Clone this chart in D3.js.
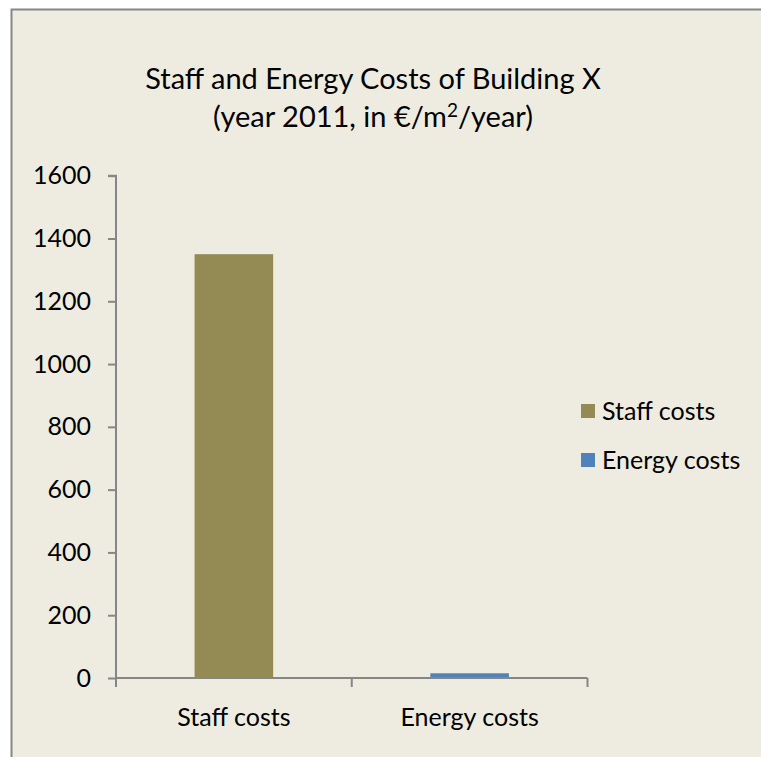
<!DOCTYPE html>
<html>
<head>
<meta charset="utf-8">
<script src="https://cdn.jsdelivr.net/npm/d3@7"></script>
<style>
  html, body { margin: 0; padding: 0; background: #ffffff; }
  svg { display: block; }
  text { font-family: Lato, "Open Sans", sans-serif; fill: #000; }
</style>
</head>
<body>
<svg id="chart" width="761" height="757"></svg>
<script>
const categories = ["Staff costs", "Energy costs"];
const values = [1350, 15];
const seriesColors = ["#948A54", "#4F81BD"];
const yTicks = [0, 200, 400, 600, 800, 1000, 1200, 1400, 1600];
const titleLine1 = "Staff and Energy Costs of Building X";
const titleLine2a = "(year 2011, in €/m";
const titleLine2sup = "2";
const titleLine2b = "/year)";

const svg = d3.select("#chart");
const W = 761, H = 757;
const axisColor = "#868686";

// chart area background and border
svg.append("rect")
  .attr("x", 11.5).attr("y", 9.5)
  .attr("width", W + 10).attr("height", H + 10)
  .attr("fill", "#EEECE1")
  .attr("stroke", axisColor).attr("stroke-width", 2);

const plot = { left: 116, right: 587.5, top: 175.7, bottom: 678 };

const x = d3.scaleBand().domain(categories).range([plot.left, plot.right]).paddingInner(0).paddingOuter(0);
const y = d3.scaleLinear().domain([0, 1600]).range([plot.bottom, plot.top]);

// bars
const barW = x.bandwidth() / 3;
svg.append("g").selectAll("rect").data(categories).join("rect")
  .attr("x", d => x(d) + (x.bandwidth() - barW) / 2)
  .attr("width", barW)
  .attr("y", (d, i) => y(values[i]))
  .attr("height", (d, i) => y(0) - y(values[i]))
  .attr("fill", (d, i) => seriesColors[i]);

// y axis
const yAxis = d3.axisLeft(y).tickValues(yTicks).tickSize(8).tickPadding(17).tickFormat(d3.format("d"));
const gy = svg.append("g").attr("transform", `translate(${plot.left},0)`).call(yAxis);
gy.select(".domain").attr("stroke", axisColor).attr("stroke-width", 2).attr("d", `M-8,${plot.top}H0V${plot.bottom}`);
gy.selectAll(".tick line").attr("stroke", axisColor).attr("stroke-width", 2);
gy.selectAll(".tick text").style("font-family", "Lato, sans-serif").style("font-size", "25px").attr("fill", "#000");

// x axis
const xAxis = d3.axisBottom(x).tickSize(0).tickPadding(30);
const gx = svg.append("g").attr("transform", `translate(0,${plot.bottom})`).call(xAxis);
gx.select(".domain").attr("stroke", axisColor).attr("stroke-width", 2).attr("d", `M${plot.left},0H${plot.right}`);
gx.selectAll(".tick text").style("font-family", "Lato, sans-serif").style("font-size", "25px").attr("fill", "#000");
// boundary ticks between categories
const bounds = [plot.left, ...categories.slice(1).map(c => x(c)), plot.right];
gx.selectAll("line.bound").data(bounds).join("line").attr("class", "bound")
  .attr("x1", d => d).attr("x2", d => d).attr("y1", 0).attr("y2", 9)
  .attr("stroke", axisColor).attr("stroke-width", 2);

// title
const cx = 373;
svg.append("text").attr("x", cx).attr("y", 89).attr("text-anchor", "middle")
  .style("font-size", "29px").text(titleLine1);
const t2 = svg.append("text").attr("x", cx).attr("y", 127).attr("text-anchor", "middle").style("font-size", "29px");
t2.append("tspan").text(titleLine2a);
t2.append("tspan").attr("dy", -10).style("font-size", "19px").text(titleLine2sup);
t2.append("tspan").attr("dy", 10).text(titleLine2b);

// legend
const legend = svg.append("g");
const ly = [411, 460];
categories.forEach((c, i) => {
  legend.append("rect").attr("x", 581).attr("y", ly[i] - 7).attr("width", 14).attr("height", 14).attr("fill", seriesColors[i]);
  legend.append("text").attr("x", 602).attr("y", ly[i]).attr("dy", "0.35em")
    .style("font-size", "25px").text(c);
});
</script>
</body>
</html>
